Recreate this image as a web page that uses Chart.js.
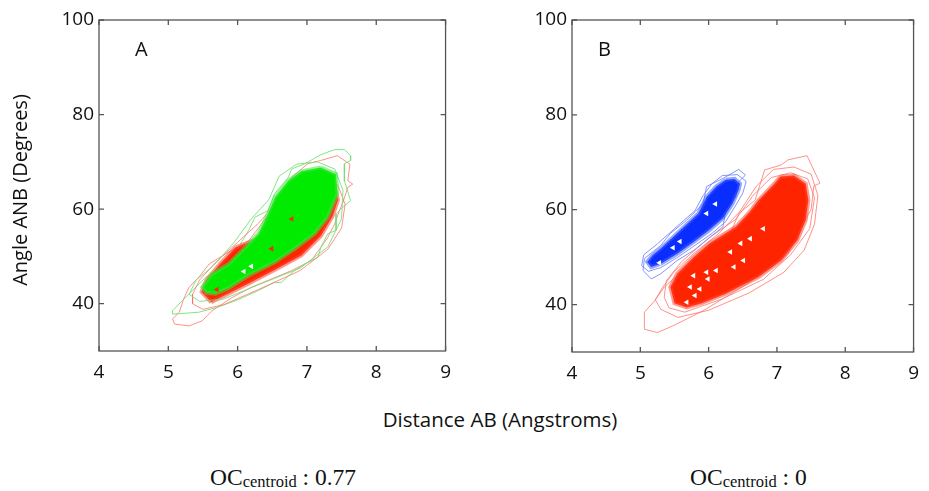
<!DOCTYPE html>
<html><head><meta charset="utf-8">
<script src="https://cdn.jsdelivr.net/npm/chart.js@4.4.1/dist/chart.umd.min.js"></script>
<style>
body{margin:0;background:#fff;width:929px;height:491px;position:relative;overflow:hidden;font-family:'Open Sans',sans-serif;color:#111}
canvas{position:absolute;top:0}
#cA{left:0}
#cB{left:470px}
.pl{position:absolute;font-size:20px;line-height:20px;top:39px}
#xt{position:absolute;left:0;width:1000px;text-align:center;top:407px;font-size:20.5px;line-height:24px}
#yt{position:absolute;left:20px;top:190px;width:300px;margin-left:-150px;text-align:center;font-size:20px;line-height:24px;transform:translateY(-12px) rotate(-90deg)}
.oc{position:absolute;top:465px;font-family:'Liberation Serif','Times New Roman',serif;font-size:23.5px;line-height:24px;white-space:nowrap}
.oc sub{font-size:16.5px;vertical-align:-2px}
</style></head>
<body>
<canvas id="cA" width="461" height="400"></canvas>
<canvas id="cB" width="459" height="400"></canvas>
<div class="pl" style="left:135px">A</div>
<div class="pl" style="left:598px">B</div>
<div id="xt">Distance AB (Angstroms)</div>
<div id="yt">Angle ANB (Degrees)</div>
<div class="oc" style="left:210px">OC<sub>centroid</sub> : 0.77</div>
<div class="oc" style="left:690px">OC<sub>centroid</sub> : 0</div>
<script>
// ---- axis ticks ----
const xTicks = [4,5,6,7,8,9];
const yTicks = [40,60,80,100];

// ---- panel A contours (x = distance AB, y = angle ANB) ----
const redOuterA = [[7.44,71.3],[7.62,69.5],[7.59,66.0],[7.66,65.3],[7.59,64.6],[7.52,61.5],[7.47,59.7],[7.40,56.9],[7.30,54.0],[7.20,51.9],[7.06,49.1],[6.78,47.0],[6.50,45.3],[6.20,43.5],[5.92,41.3],[5.63,38.5],[5.49,36.4],[5.30,35.3],[5.09,35.7],[5.06,36.8],[5.16,38.2],[5.22,41.0],[5.30,43.5],[5.44,45.6],[5.59,48.4],[5.82,50.5],[6.16,53.3],[6.30,56.0],[6.50,60.0],[6.65,64.0],[6.78,66.7],[7.01,69.6],[7.20,70.3]];
const redMidA = [[5.35,40.0],[5.50,38.8],[5.80,39.8],[6.30,43.0],[6.90,47.0],[7.30,51.5],[7.50,56.0],[7.55,61.0],[7.45,65.0],[7.20,67.0],[6.90,66.5],[6.60,62.0],[6.30,57.0],[6.00,53.0],[5.70,49.0],[5.45,45.0],[5.35,42.0]];
const redCoreA = [[5.62,40.3],[5.78,41.5],[6.16,44.3],[6.54,47.2],[6.92,50.2],[7.20,54.3],[7.37,58.5],[7.45,62.0],[7.40,64.5],[7.25,65.0],[7.10,62.0],[6.85,58.0],[6.55,54.5],[6.25,53.5],[5.97,51.9],[5.75,48.5],[5.55,45.0],[5.48,42.5]];
const greenOuterA = [[7.20,71.5],[7.40,72.6],[7.54,72.6],[7.63,71.3],[7.63,70.3],[7.54,69.6],[7.54,66.0],[7.63,61.8],[7.54,60.7],[7.42,59.0],[7.42,55.5],[7.30,54.8],[7.20,51.9],[7.16,49.8],[6.97,48.4],[6.82,47.0],[6.63,44.5],[6.53,44.5],[6.30,42.8],[6.00,40.8],[5.70,39.2],[5.44,38.2],[5.06,37.8],[5.06,38.5],[5.30,42.1],[5.54,45.6],[5.78,47.7],[6.01,51.9],[6.16,55.5],[6.25,58.3],[6.44,59.7],[6.53,63.2],[6.73,66.7],[6.78,68.5],[6.97,69.6]];
const greenMidA = [[5.30,42.0],[5.45,40.5],[5.80,41.0],[6.30,44.0],[6.90,47.5],[7.30,52.0],[7.50,58.0],[7.52,64.0],[7.40,68.5],[7.15,70.0],[6.85,69.5],[6.60,67.0],[6.45,62.0],[6.20,58.0],[5.95,53.0],[5.65,48.0],[5.40,45.0]];
const greenCoreA = [[7.20,68.8],[7.42,67.4],[7.44,63.2],[7.30,58.3],[7.11,54.8],[6.82,51.6],[6.54,48.8],[6.16,46.0],[5.87,43.3],[5.68,42.1],[5.55,42.3],[5.49,43.5],[5.63,46.3],[5.87,48.4],[6.11,51.9],[6.30,54.8],[6.44,59.0],[6.54,62.5],[6.73,66.0],[6.92,68.0]];
const whiteHolesA = [[6.20,47.9],[6.09,46.8]];
const redHolesA = [[6.78,57.9],[6.49,51.6],[5.70,43.0]];

// ---- panel B contours ----
const blueOuterB = [[6.44,68.5],[6.54,67.3],[6.44,65.9],[6.40,62.7],[6.25,59.9],[6.21,56.4],[5.97,53.6],[5.78,51.4],[5.54,49.3],[5.30,46.5],[5.16,45.4],[5.04,47.2],[5.06,49.7],[5.30,52.5],[5.44,55.0],[5.68,57.8],[5.92,61.3],[5.97,64.9],[6.21,66.6]];
const blueMidB = [[6.20,67.2],[6.42,67.4],[6.55,66.0],[6.50,63.5],[6.40,61.0],[6.25,57.5],[6.05,55.0],[5.80,52.5],[5.55,50.0],[5.30,47.8],[5.12,47.0],[5.02,48.2],[5.05,50.5],[5.25,52.8],[5.50,56.0],[5.80,59.8],[5.92,63.0],[6.05,65.5]];
const blueCoreB = [[6.25,66.3],[6.38,66.5],[6.46,65.5],[6.44,64.2],[6.35,61.3],[6.21,58.2],[6.01,55.7],[5.78,53.2],[5.54,50.7],[5.30,48.6],[5.16,47.9],[5.10,49.0],[5.18,50.4],[5.30,51.8],[5.59,55.7],[5.85,59.2],[5.97,62.7],[6.11,64.9]];
const redOuterB = [[7.44,71.4],[7.63,65.6],[7.54,65.0],[7.50,60.0],[7.30,55.0],[7.16,50.7],[6.92,47.9],[6.49,43.7],[5.92,38.7],[5.49,35.6],[5.25,34.1],[5.06,34.8],[5.06,38.4],[5.21,40.8],[5.35,43.7],[5.63,47.2],[6.01,50.7],[6.30,54.3],[6.44,59.2],[6.68,62.0],[6.82,68.4],[7.06,69.4],[7.16,70.5]];
const redMid1B = [[5.30,39.0],[5.55,37.3],[6.00,38.8],[6.60,42.5],[7.10,46.8],[7.40,51.5],[7.55,57.0],[7.60,63.0],[7.50,67.5],[7.25,69.0],[6.95,68.5],[6.70,65.0],[6.45,59.5],[6.15,55.0],[5.80,51.0],[5.50,47.0],[5.32,43.5],[5.22,41.0]];
const redMid2B = [[5.42,39.3],[5.65,38.4],[6.20,41.2],[6.80,45.3],[7.20,50.5],[7.48,56.0],[7.55,62.5],[7.45,66.5],[7.20,67.8],[6.92,66.8],[6.65,63.0],[6.40,58.0],[6.00,54.0],[5.60,49.0],[5.38,45.0],[5.35,41.5]];
const redCoreB = [[7.05,67.0],[7.25,67.2],[7.42,65.5],[7.46,62.0],[7.42,57.8],[7.30,53.6],[7.06,49.3],[6.73,45.8],[6.25,42.3],[5.90,40.3],[5.68,39.4],[5.50,40.3],[5.44,43.7],[5.54,46.5],[5.78,50.0],[6.01,52.9],[6.40,56.4],[6.60,59.5],[6.73,62.0],[6.97,65.6]];
const whiteHolesB = [[6.80,56.0],[6.61,53.9],[6.47,52.9],[6.32,51.1],[6.51,49.3],[6.37,47.9],[6.11,47.2],[5.99,45.4],[5.87,43.3],[5.73,43.7],[5.97,46.8],[5.80,41.9],[5.68,40.5],[5.78,46.1],[6.10,61.2],[5.97,59.2],[5.58,53.3],[5.48,52.0],[5.28,48.8]];

// ---- helpers ----
function toPts(a){ return a.map(p => ({x:p[0], y:p[1]})); }
function poly(a, line, width, fill){
  const pts = toPts(a); pts.push({x:a[0][0], y:a[0][1]});
  return {type:'scatter', data:pts, showLine:true, borderColor:line, borderWidth:width,
          pointRadius:0, pointHoverRadius:0, tension:0, fill:false, polyFill:fill || null};
}
function marks(a, color){
  return {type:'scatter', data:toPts(a), pointStyle:'triangle', pointRotation:270, pointRadius:3.2,
          backgroundColor:color, borderWidth:0, showLine:false};
}

const polyFillPlugin = {
  id:'polyFill',
  beforeDatasetDraw(chart, args){
    const ds = chart.data.datasets[args.index];
    if (!ds.polyFill) return;
    const pts = args.meta.data, ctx = chart.ctx, ca = chart.chartArea;
    ctx.save();
    ctx.beginPath(); ctx.rect(ca.left, ca.top, ca.right-ca.left, ca.bottom-ca.top); ctx.clip();
    ctx.beginPath();
    pts.forEach((p,i) => i ? ctx.lineTo(p.x,p.y) : ctx.moveTo(p.x,p.y));
    ctx.closePath(); ctx.fillStyle = ds.polyFill; ctx.fill();
    ctx.restore();
  }
};
const framePlugin = {
  id:'frame',
  afterDraw(chart){
    const ctx = chart.ctx, ca = chart.chartArea, xs = chart.scales.x, ys = chart.scales.y, L = 5;
    ctx.save();
    ctx.strokeStyle = '#555'; ctx.lineWidth = 1.3;
    ctx.strokeRect(ca.left, ca.top, ca.right-ca.left, ca.bottom-ca.top);
    ctx.beginPath();
    xs.ticks.forEach(t => { const px = xs.getPixelForValue(t.value);
      ctx.moveTo(px, ca.bottom); ctx.lineTo(px, ca.bottom-L);
      ctx.moveTo(px, ca.top); ctx.lineTo(px, ca.top+L); });
    ys.ticks.forEach(t => { const py = ys.getPixelForValue(t.value);
      ctx.moveTo(ca.left, py); ctx.lineTo(ca.left+L, py);
      ctx.moveTo(ca.right, py); ctx.lineTo(ca.right-L, py); });
    ctx.stroke(); ctx.restore();
  }
};

Chart.defaults.font.family = "'Open Sans', sans-serif";
Chart.defaults.color = '#111';

function makeChart(id, datasets, yWidth, pad){
  return new Chart(document.getElementById(id), {
    type:'scatter',
    data:{datasets},
    plugins:[polyFillPlugin, framePlugin],
    options:{
      responsive:false, animation:false, devicePixelRatio:1,
      layout:{padding:pad},
      plugins:{legend:{display:false}, tooltip:{enabled:false}},
      events:[],
      scales:{
        x:{type:'linear', min:4, max:9,
           afterBuildTicks:s => { s.ticks = xTicks.map(v => ({value:v})); },
           afterFit:s => { s.height = 40; },
           grid:{display:false, drawTicks:false}, border:{display:false},
           ticks:{padding:10, font:{size:19}, color:'#111'}},
        y:{type:'linear', min:30, max:100,
           afterBuildTicks:s => { s.ticks = yTicks.map(v => ({value:v})); },
           afterFit:s => { s.width = yWidth; },
           grid:{display:false, drawTicks:false}, border:{display:false},
           ticks:{padding:5, font:{size:19}, color:'#111'}}
      }
    }
  });
}

const RED = 'rgb(255,36,0)', REDL = 'rgba(255,110,100,0.75)', REDE = 'rgba(255,70,50,0.55)';
const GRN = 'rgb(0,235,0)', GRNL = 'rgba(110,225,110,0.85)', GRNE = 'rgba(60,230,60,0.55)';
const BLU = 'rgb(10,45,255)', BLUL = 'rgba(110,130,255,0.85)', BLUE_E = 'rgba(60,90,255,0.55)';

// dataset 0 drawn on top
makeChart('cA', [
  marks(whiteHolesA, '#ffffff'),
  marks(redHolesA, RED),
  poly(greenCoreA, GRNE, 4, GRN),
  poly(greenMidA, GRNL, 1),
  poly(redCoreA, REDE, 4, RED),
  poly(redMidA, REDL, 1),
  poly(greenOuterA, GRNL, 1),
  poly(redOuterA, REDL, 1)
], 99, {top:20, right:12, bottom:9, left:0});

makeChart('cB', [
  marks(whiteHolesB, '#ffffff'),
  poly(blueCoreB, BLUE_E, 4, BLU),
  poly(blueMidB, BLUL, 1),
  poly(blueOuterB, BLUL, 1),
  poly(redCoreB, REDE, 4, RED),
  poly(redMid2B, REDL, 1),
  poly(redMid1B, REDL, 1),
  poly(redOuterB, REDL, 1)
], 102, {top:20, right:7, bottom:8, left:0});
</script>
</body></html>
